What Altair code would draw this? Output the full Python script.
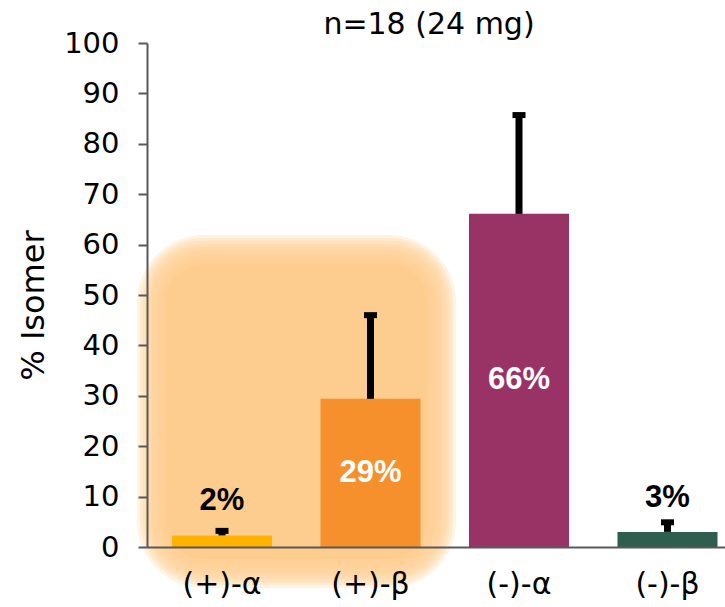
import altair as alt
import pandas as pd

# ---- data ----
categories = ["(+)-α", "(+)-β", "(-)-α", "(-)-β"]
values = [2.3, 29.4, 66.1, 3.0]          # % isomer (bar heights)
err_top = [3.2, 46.0, 85.7, 4.9]         # upper end of error bars
labels = ["2%", "29%", "66%", "3%"]
colors = ["#FFB300", "#F5902C", "#993366", "#2E5E4E"]
y_ticks = list(range(0, 101, 10))
title_text = "n=18 (24 mg)"

df = pd.DataFrame({
    "cat": categories,
    "val": values,
    "top": err_top,
    "lab": labels,
})
df["half"] = df["val"] / 2
df["inside"] = df["val"] >= 10

AX_GREY = "#595959"
LEFT, TOP = 147, 43

x_enc = alt.X(
    "cat:N",
    sort=categories,
    scale=alt.Scale(range=[0, 595.5], paddingInner=0.3266, paddingOuter=0.1684),
    axis=alt.Axis(
        title=None, labelAngle=0, ticks=False, tickSize=0, labelPadding=37,
        labelBaseline="middle", labelFont="DejaVu Sans", labelFontSize=30,
        labelColor="black", domainColor=AX_GREY, domainWidth=2, zindex=1,
    ),
)

y_scale = alt.Scale(domain=[0, 100], nice=False)
y_axis = alt.Axis(
    values=y_ticks, title="% Isomer", grid=False, zindex=1,
    labelFont="DejaVu Sans", labelFontSize=29, labelColor="black",
    labelPadding=19, tickSize=9, tickWidth=2, tickColor=AX_GREY,
    domainColor=AX_GREY, domainWidth=2,
    titleFont="DejaVu Sans", titleFontSize=32, titleFontWeight="normal",
    titleColor="black", titleAngle=-90, titleX=-114, titleY=262,
    titleAlign="center", titleBaseline="middle",
)

base = alt.Chart(df)
one = pd.DataFrame({"k": [0]})

# ---- decorative soft glow behind the (+) isomers ----
glow_color = "#FDCC8F"
core = (166, 427, 264, 559)   # page pixels of the solid core
spread = 29
n_layers = 11
glow_layers = []
for i in range(n_layers):
    e = spread * (1 - i / (n_layers - 1))
    glow_layers.append(
        alt.Chart(one).mark_rect(
            color=glow_color, opacity=0.24, cornerRadius=38 + e
        ).encode(
            x=alt.value(core[0] - LEFT - e), x2=alt.value(core[1] - LEFT + e),
            y=alt.value(core[2] - TOP - e), y2=alt.value(core[3] - TOP + e),
        )
    )
glow_layers.append(
    alt.Chart(one).mark_rect(color=glow_color, opacity=1, cornerRadius=38).encode(
        x=alt.value(core[0] - LEFT), x2=alt.value(core[1] - LEFT),
        y=alt.value(core[2] - TOP), y2=alt.value(core[3] - TOP),
    )
)

bars = base.mark_bar().encode(
    x=x_enc,
    y=alt.Y("val:Q", scale=y_scale, axis=y_axis),
    color=alt.Color("cat:N", sort=categories,
                    scale=alt.Scale(domain=categories, range=colors), legend=None),
)

err_rule = base.mark_rule(color="black", strokeWidth=7).encode(
    x=alt.X("cat:N", sort=categories),
    y=alt.Y("val:Q", scale=y_scale, axis=y_axis),
    y2="top:Q",
)

err_cap = base.mark_tick(color="black", size=13, thickness=6, opacity=1).encode(
    x=alt.X("cat:N", sort=categories),
    y=alt.Y("top:Q", scale=y_scale, axis=y_axis),
)

txt_in = base.transform_filter("datum.inside").mark_text(
    font="Liberation Sans", fontSize=31, fontWeight="bold", color="white",
    baseline="middle", align="center",
).encode(
    x=alt.X("cat:N", sort=categories),
    y=alt.Y("half:Q", scale=y_scale, axis=y_axis),
    text="lab:N",
)

txt_out = base.transform_filter("!datum.inside").mark_text(
    font="Liberation Sans", fontSize=31, fontWeight="bold", color="black",
    baseline="middle", align="center", dy=-34,
).encode(
    x=alt.X("cat:N", sort=categories),
    y=alt.Y("val:Q", scale=y_scale, axis=y_axis),
    text="lab:N",
)

title_mark = alt.Chart(pd.DataFrame({"t": [title_text]})).mark_text(
    font="DejaVu Sans", fontSize=30, color="black", align="center",
    baseline="alphabetic",
).encode(
    x=alt.value(429 - LEFT), y=alt.value(34 - TOP), text="t:N",
)

chart = alt.layer(
    *glow_layers, bars, err_rule, err_cap, txt_in, txt_out, title_mark
).properties(
    width=578,
    height=504,
    autosize=alt.AutoSizeParams(type="none"),
    padding={"left": LEFT, "top": TOP, "right": 0, "bottom": 60},
    background="white",
).configure_view(stroke=None)

chart.save("out.html", embed_options={"renderer": "svg", "actions": False})
